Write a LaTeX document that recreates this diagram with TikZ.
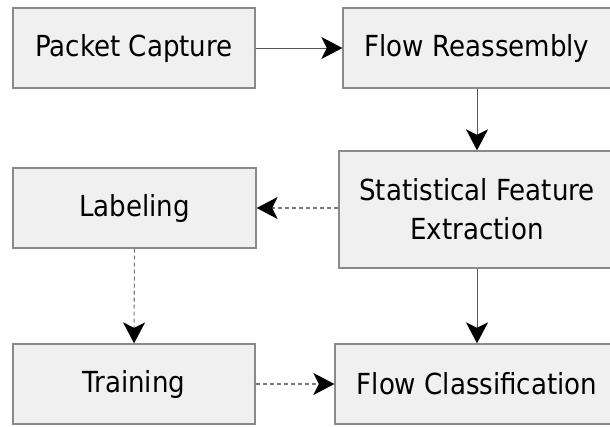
\documentclass[tikz,border=0pt]{standalone}
\usepackage{fontspec}
\setmainfont{DejaVu Sans Condensed}
\usetikzlibrary{arrows.meta}
\definecolor{boxfill}{HTML}{F0F0F0}
\definecolor{boxline}{HTML}{8A8A8A}
\definecolor{flowline}{HTML}{555555}
\definecolor{dashline}{HTML}{7A7A7A}
\tikzset{
  stagebox/.style={draw=boxline, fill=boxfill, line width=1.3pt, inner sep=0pt,
    align=center, font=\fontsize{29}{39}\selectfont, text=black},
  tip/.style={-{Stealth[length=21pt,width=22pt,inset=5.5pt,color=black]}},
  solidflow/.style={tip, draw=flowline, line width=0.9pt},
  dashflow/.style={tip, draw=dashline, line width=1.1pt, dash pattern=on 4pt off 3pt},
}
\begin{document}
\begin{tikzpicture}[x=1pt,y=-1pt]
\useasboundingbox (0,0) rectangle (610,426);
\node[stagebox, minimum width=242pt, minimum height=80pt] (capture) at (134,48) {Packet Capture};
\node[stagebox, minimum width=268pt, minimum height=80pt] (reasm) at (477,48) {Flow Reassembly};
\node[stagebox, minimum width=276pt, minimum height=117pt] (feat) at (477,209.5) {Statistical Feature\\Extraction};
\node[stagebox, minimum width=243pt, minimum height=80pt] (label) at (134.5,208) {Labeling};
\node[stagebox, minimum width=242pt, minimum height=80pt] (train) at (134,384) {Training};
\node[stagebox, minimum width=284pt, minimum height=80pt] (classify) at (477,384) {Flow Classification};

\draw[solidflow] (capture.east) -- (reasm.west);
\draw[solidflow] (reasm.south) -- (feat.north);
\draw[solidflow] (feat.south) -- (classify.north);
\draw[dashflow] (feat.west |- label.east) -- (label.east);
\draw[dashflow] (label.south) -- (train.north);
\draw[dashflow] (train.east) -- (classify.west |- train.east);
\end{tikzpicture}
\end{document}
